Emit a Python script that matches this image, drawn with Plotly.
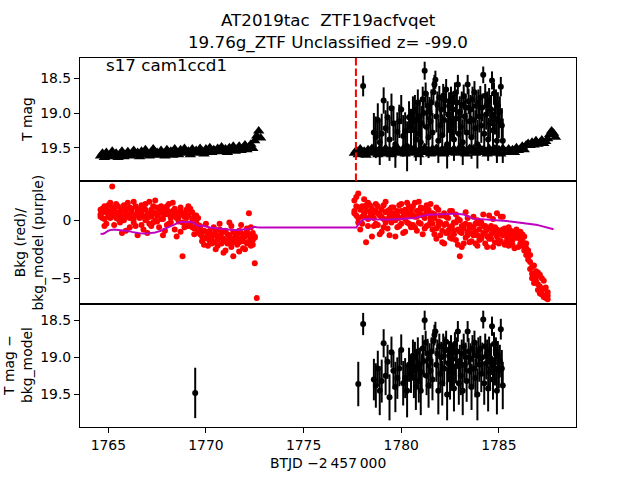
import plotly.graph_objects as go
from plotly.subplots import make_subplots

# ---------------- data ----------------
t_seg1 = [1764.6, 1764.7, 1764.8, 1764.9, 1765.0, 1765.1, 1765.2, 1765.3, 1765.4, 1765.5,
          1765.6, 1765.7, 1765.8, 1765.9, 1766.0, 1766.1, 1766.2, 1766.3, 1766.4, 1766.5,
          1766.6, 1766.7, 1766.8, 1766.9, 1767.0, 1767.1, 1767.2, 1767.3, 1767.4, 1767.5,
          1767.6, 1767.7, 1767.8, 1767.9, 1768.0, 1768.1, 1768.2, 1768.3, 1768.4, 1768.5,
          1768.6, 1768.7, 1768.8, 1768.9, 1769.0, 1769.1, 1769.2, 1769.3, 1769.4, 1769.5,
          1769.6, 1769.7, 1769.8, 1769.9, 1770.0, 1770.1, 1770.2, 1770.3, 1770.4, 1770.5,
          1770.6, 1770.7, 1770.8, 1770.9, 1771.0, 1771.1, 1771.2, 1771.3, 1771.4, 1771.5,
          1771.6, 1771.7, 1771.8, 1771.9, 1772.0, 1772.1, 1772.2, 1772.3, 1772.4, 1772.5,
          1772.6, 1772.7, 1772.8]
t_seg2 = [1777.6, 1777.7, 1777.8, 1777.9, 1778.0, 1778.1, 1778.2, 1778.3, 1778.4, 1778.5,
          1778.6, 1778.7, 1778.8, 1778.9, 1779.0, 1779.1, 1779.2, 1779.3, 1779.4, 1779.5,
          1779.6, 1779.7, 1779.8, 1779.9, 1780.0, 1780.1, 1780.2, 1780.3, 1780.4, 1780.5,
          1780.6, 1780.7, 1780.8, 1780.9, 1781.0, 1781.1, 1781.2, 1781.3, 1781.4, 1781.5,
          1781.6, 1781.7, 1781.8, 1781.9, 1782.0, 1782.1, 1782.2, 1782.3, 1782.4, 1782.5,
          1782.6, 1782.7, 1782.8, 1782.9, 1783.0, 1783.1, 1783.2, 1783.3, 1783.4, 1783.5,
          1783.6, 1783.7, 1783.8, 1783.9, 1784.0, 1784.1, 1784.2, 1784.3, 1784.4, 1784.5,
          1784.6, 1784.7, 1784.8, 1784.9, 1785.0, 1785.1, 1785.2, 1785.3, 1785.4, 1785.5,
          1785.6, 1785.7, 1785.8, 1785.9, 1786.0, 1786.1, 1786.2, 1786.3, 1786.4, 1786.5,
          1786.6, 1786.7, 1786.8, 1786.9, 1787.0, 1787.1, 1787.2, 1787.3, 1787.4, 1787.5,
          1787.6, 1787.7, 1787.8, 1787.9]

# upper-limit magnitudes (black triangles)
lim_seg1 = [19.62, 19.58, 19.64, 19.57, 19.63, 19.60, 19.55, 19.62, 19.58, 19.64,
            19.59, 19.55, 19.63, 19.60, 19.56, 19.62, 19.58, 19.54, 19.61, 19.57,
            19.63, 19.55, 19.60, 19.53, 19.59, 19.62, 19.56, 19.52, 19.60, 19.57,
            19.61, 19.54, 19.58, 19.62, 19.53, 19.59, 19.55, 19.61, 19.52, 19.57,
            19.60, 19.53, 19.58, 19.51, 19.57, 19.55, 19.60, 19.52, 19.58, 19.54,
            19.57, 19.51, 19.55, 19.59, 19.52, 19.56, 19.50, 19.57, 19.53, 19.55,
            19.51, 19.56, 19.49, 19.55, 19.52, 19.57, 19.50, 19.54, 19.48, 19.55,
            19.52, 19.48, 19.54, 19.50, 19.46, 19.53, 19.49, 19.45, 19.51, 19.40,
            19.33, 19.26, 19.36]
lim_seg2 = [19.58, 19.54, 19.60, 19.52, 19.57, 19.55, 19.61, 19.53, 19.58, 19.51,
            19.57, 19.54, 19.60, 19.52, 19.56, 19.59, 19.51, 19.57, 19.54, 19.60,
            19.53, 19.57, 19.50, 19.58, 19.55, 19.52, 19.59, 19.54, 19.57, 19.51,
            19.58, 19.53, 19.56, 19.60, 19.52, 19.55, 19.50, 19.57, 19.54, 19.59,
            19.52, 19.56, 19.51, 19.58, 19.55, 19.53, 19.59, 19.50, 19.56, 19.54,
            19.57, 19.52, 19.58, 19.54, 19.50, 19.57, 19.53, 19.59, 19.55, 19.51,
            19.56, 19.52, 19.58, 19.54, 19.50, 19.57, 19.53, 19.55, 19.59, 19.51,
            19.55, 19.58, 19.52, 19.56, 19.53, 19.59, 19.51, 19.55, 19.57, 19.52,
            19.56, 19.53, 19.57, 19.50, 19.54, 19.52, 19.48, 19.53, 19.46, 19.44,
            19.47, 19.42, 19.46, 19.40, 19.45, 19.43, 19.39, 19.44, 19.41, 19.37,
            19.31, 19.26, 19.29, 19.35]

# background (red dots), three samples per epoch
bkg_seg1_a = [0.9, 0.2, 1.2, -0.3, 0.5, 1.5, 2.9, 0.8, 1.4, 0.1,
              -0.2, 0.9, 1.3, -0.9, 0.5, 1.1, 0.2, 1.6, -0.5, 0.7,
              1.0, -0.4, 0.3, 1.4, -1.1, 0.6, 0.9, -0.2, 1.7, 0.4,
              -0.6, 0.8, -1.3, 0.5, 1.2, -0.3, 0.7, 1.5, -0.8, 0.2,
              0.6, -1.0, -3.1, 0.3, 0.9, -0.5, 0.8, 0.1, -0.7, 0.4,
              -0.4, -1.2, -1.8, -0.9, -1.5, -2.2, -1.1, -1.7, -0.6, -2.5,
              -1.4, -0.8, -2.0, -1.6, -2.6, -1.2, -1.9, -0.5, -3.1, -1.5,
              -2.1, -0.9, -1.6, -2.4, -1.3, -0.7, -1.8, -2.2, -1.1, -3.7,
              -6.7, None, None]
bkg_seg1_b = [0.3, 1.0, -0.5, 0.7, 1.3, 0.2, 1.1, -0.4, 0.6, 1.2,
              0.4, -1.1, 0.8, 0.3, 1.5, -0.6, 1.0, 0.1, 1.2, -1.3,
              0.5, 1.3, -0.8, 0.9, 0.2, 1.6, -0.5, 0.7, 0.0, 1.1,
              0.6, 1.2, 0.1, -0.9, 0.9, 1.4, -0.2, 0.4, 1.0, -1.4,
              -0.1, 1.1, 0.5, -0.6, 0.2, 1.2, -0.3, 0.7, -1.2, 0.0,
              0.2, -0.7, -1.0, -2.1, -0.3, -1.6, -0.9, -2.0, -1.3, -1.0,
              -2.2, -0.3, -1.1, -2.8, -0.9, -1.7, -0.2, -2.3, -1.0, -1.8,
              -1.2, -2.7, -0.4, -1.5, -2.5, -1.0, 0.6, -0.6, -1.7, -1.4,
              None, None, None]
bkg_seg1_c = [0.5, 0.7, 0.1, 1.0, 0.3, 0.8, 0.4, 1.1, 0.2, 0.6,
              0.8, 0.3, 0.0, 0.6, 1.0, 0.2, 0.7, -0.2, 0.4, 0.9,
              0.2, 0.6, 1.0, 0.0, 0.5, -0.3, 0.3, 1.2, 0.6, -0.1,
              0.9, 0.1, 0.6, 1.0, -0.4, 0.5, 0.2, 0.8, 0.4, 0.7,
              0.3, 0.8, -0.2, 0.6, -0.5, 0.4, 1.0, -0.6, 0.3, -0.3,
              -1.0, -0.5, -1.4, -1.6, -1.0, -1.3, -1.8, -1.4, -1.9, -1.2,
              -1.7, -1.4, -1.5, -1.0, -1.8, -2.0, -1.3, -1.6, -1.9, -1.2,
              -1.6, -1.9, -1.1, -1.8, -1.4, -2.0, -1.3, -1.6, -2.1, -1.5,
              None, None, None]
bkg_seg2_a = [1.7, 0.4, 2.3, -0.8, 1.2, 0.6, -1.9, 1.5, 0.3, 1.0,
              -0.5, 1.4, 0.6, -1.2, 0.9, 0.1, 1.6, -0.7, 0.5, 1.1,
              0.2, -1.4, 0.8, 1.3, -0.3, 0.7, -1.0, 1.5, 0.4, -0.6,
              1.2, 0.3, -0.9, 1.6, 0.5, -1.2, 1.0, 0.6, -0.4, 1.4,
              -0.8, 0.5, -1.6, 0.9, -0.2, -1.9, 0.6, -1.1, 0.2, -1.5,
              0.8, -0.9, -1.7, 0.1, -3.1, -0.5, -2.0, 0.7, -1.3, -0.4,
              -1.8, 0.3, -1.0, -2.2, -0.3, -1.4, 0.5, -2.0, -0.8, -1.6,
              -0.5, -2.3, -1.1, 0.6, -1.7, -0.9, 0.3, -2.1, -1.4, -0.6,
              -1.8, -1.0, -2.4, -0.8, -1.5, -2.0, -1.2, -2.6, -2.4, -3.4,
              -4.2, -4.6, -3.9, -4.9, -5.5, -4.7, -6.1, -5.2, -6.5, -6.8,
              None, None, None, None]
bkg_seg2_b = [0.8, 2.0, -0.2, 1.1, 0.3, 1.8, 0.9, -0.5, 1.3, -1.4,
              0.7, -0.3, 1.2, 0.4, -1.0, 1.3, -0.2, 0.8, -1.3, 0.3,
              1.1, 0.5, -0.6, 0.2, 1.4, -1.1, 0.9, -0.2, 1.2, 0.6,
              -0.4, 1.5, 0.8, -0.2, 1.1, 0.4, -0.7, 1.3, 0.9, 0.2,
              0.6, -1.2, 1.1, -0.5, -1.3, 0.4, -2.0, -0.3, -0.9, 0.8,
              -1.6, -0.2, 0.5, -2.1, -1.0, -2.3, -0.4, -1.5, 0.2, -1.9,
              -0.6, -1.3, -2.0, 0.0, -1.7, -0.2, -1.1, -0.5, -2.3, 0.4,
              -1.2, 0.1, -1.9, -0.8, -2.0, 0.3, -1.3, -0.7, -1.8, -2.2,
              -0.9, -2.1, -1.3, -0.9, -2.3, -1.0, -1.7, -2.0, -3.0, -2.9,
              -3.6, -5.0, -5.4, -4.4, -6.0, -6.3, -5.0, -6.6, -5.8, -6.2,
              None, None, None, None]
bkg_seg2_c = [0.6, 1.2, 0.2, 0.9, -0.3, 0.4, 1.3, 0.1, 0.7, 0.5,
              0.2, 0.8, -0.4, 0.5, 0.3, -0.6, 0.7, 0.1, 0.9, -0.2,
              0.6, 0.0, 0.4, -0.5, 0.8, 0.3, 0.1, 0.6, -0.3, 0.9,
              0.4, -0.6, 0.3, 0.8, -0.3, 1.0, 0.2, -0.5, 0.7, -0.1,
              -0.3, 0.2, -0.7, -0.1, 0.4, -0.9, -0.4, 0.3, -1.1, -0.6,
              -0.5, -1.2, -0.2, -0.8, 0.0, -1.1, -0.7, -0.3, -1.0, -0.6,
              -1.1, -0.6, -0.3, -1.3, -0.8, -1.6, -0.5, -1.0, -1.4, -0.7,
              -1.6, -1.0, -0.6, -1.4, -1.1, -1.8, -0.8, -1.3, -1.0, -1.6,
              -1.3, -1.7, -1.0, -1.5, -1.2, -1.6, -2.2, -1.4, -2.0, -2.6,
              -3.0, -4.0, -4.8, -5.2, -4.5, -5.7, -6.4, -5.9, -6.7, -6.5,
              None, None, None, None]

# background model (purple line)
model_seg1 = [-1.15, -1.18, -1.12, -1.00, -0.90, -0.85, -0.80, -0.80, -0.82, -0.84,
              -0.83, -0.85, -0.84, -0.86, -0.90, -0.95, -1.00, -1.05, -1.08, -1.10,
              -1.12, -1.15, -1.14, -1.15, -1.13, -1.12, -1.13, -1.10, -1.05, -1.00,
              -0.98, -0.90, -0.80, -0.72, -0.68, -0.62, -0.55, -0.45, -0.35, -0.28,
              -0.20, -0.16, -0.14, -0.13, -0.12, -0.14, -0.13, -0.16, -0.25, -0.38,
              -0.48, -0.52, -0.45, -0.50, -0.58, -0.60, -0.63, -0.65, -0.67, -0.70,
              -0.72, -0.74, -0.76, -0.79, -0.81, -0.84, -0.86, -0.86, -0.85, -0.86,
              -0.84, -0.83, -0.85, -0.82, -0.80, -0.78, -0.75, -0.68, -0.60, -0.57,
              -0.60, -0.62, -0.63]
model_seg2 = [-0.63, -0.62, -0.35, -0.15, 0.00, 0.08, 0.10, 0.09, 0.10, 0.08,
              0.09, 0.07, 0.08, 0.06, 0.07, 0.06, 0.08, 0.06, 0.07, 0.06,
              0.07, 0.06, 0.08, 0.10, 0.12, 0.11, 0.13, 0.12, 0.14, 0.15,
              0.14, 0.20, 0.25, 0.30, 0.36, 0.40, 0.44, 0.46, 0.48, 0.49,
              0.50, 0.52, 0.53, 0.55, 0.56, 0.57, 0.57, 0.58, 0.57, 0.56,
              0.58, 0.57, 0.55, 0.54, 0.53, 0.52, 0.50, 0.42, 0.33, 0.25,
              0.18, 0.14, 0.13, 0.12, 0.12, 0.11, 0.10, 0.09, 0.08, 0.07,
              0.06, 0.07, 0.06, 0.05, 0.04, 0.02, 0.00, -0.03, -0.06, -0.09,
              -0.12, -0.14, -0.16, -0.18, -0.20, -0.22, -0.24, -0.26, -0.27, -0.28,
              -0.29, -0.31, -0.34, -0.38, -0.42, -0.46, -0.50, -0.55, -0.60, -0.65,
              -0.70, -0.75, -0.78, None]

# detections (black points with error bars)
det_t = [1778.05,
         1778.6, 1778.7, 1778.8, 1778.9, 1779.0, 1779.1, 1779.2, 1779.3, 1779.4, 1779.5,
         1779.6, 1779.7, 1779.8, 1779.9, 1780.0, 1780.1, 1780.2, 1780.3, 1780.4, 1780.5, 1780.6,
         1780.65, 1780.70, 1780.75, 1780.80, 1780.85, 1780.90, 1780.95, 1781.00,
         1781.05, 1781.10, 1781.15, 1781.20, 1781.25, 1781.30, 1781.35, 1781.40, 1781.45, 1781.50,
         1781.55, 1781.60, 1781.65, 1781.70, 1781.75, 1781.80, 1781.85, 1781.90, 1781.95, 1782.00,
         1782.05, 1782.10, 1782.15, 1782.20, 1782.25, 1782.30, 1782.35, 1782.40, 1782.45, 1782.50,
         1782.55, 1782.60, 1782.65, 1782.70, 1782.75, 1782.80, 1782.85, 1782.90, 1782.95, 1783.00,
         1783.05, 1783.10, 1783.15, 1783.20, 1783.25, 1783.30, 1783.35, 1783.40, 1783.45, 1783.50,
         1783.55, 1783.60, 1783.65, 1783.70, 1783.75, 1783.80, 1783.85, 1783.90, 1783.95, 1784.00,
         1784.05, 1784.10, 1784.15, 1784.20, 1784.25, 1784.30, 1784.35, 1784.40, 1784.45, 1784.50,
         1784.55, 1784.60, 1784.65, 1784.70, 1784.75, 1784.80, 1784.85, 1784.90, 1784.95, 1785.00,
         1785.05, 1785.10, 1785.15, 1785.20]
det_mag = [18.61,
           19.28, 19.35, 19.10, 19.42, 19.30, 18.82, 19.22, 19.06, 19.38, 18.93,
           19.15, 19.45, 19.27, 19.12, 18.95, 19.33, 19.26, 19.48, 19.06, 19.20, 18.98,
           19.25, 18.95, 19.38, 19.10, 18.85, 19.30, 19.05, 19.42,
           19.15, 18.80, 19.00, 18.39, 18.72, 19.20, 18.90, 19.35, 18.98, 19.12,
           18.85, 19.28, 18.70, 18.59, 18.52, 19.05, 18.88, 19.40, 18.78, 19.18,
           18.95, 19.32, 18.75, 19.10, 18.82, 18.66, 19.45, 19.02, 18.90, 19.25,
           18.80, 19.15, 18.95, 19.38, 18.72, 19.08, 18.85, 18.59, 19.30, 18.98,
           19.20, 18.88, 19.42, 18.76, 19.05, 18.92, 19.28, 18.59, 18.83, 19.12,
           18.95, 19.35, 18.80, 19.10, 18.70, 19.22, 18.90, 19.45, 18.85, 19.05,
           18.78, 19.18, 18.92, 18.45, 19.30, 18.75, 19.02, 18.88, 19.38, 18.82,
           19.15, 18.95, 18.53, 19.25, 18.72, 19.08, 18.85, 19.40, 18.90, 19.12,
           18.98, 18.62, 19.18, 19.40]
det_err = [0.15,
           0.28, 0.30, 0.24, 0.33, 0.29, 0.19, 0.26, 0.23, 0.31, 0.21,
           0.25, 0.34, 0.28, 0.24, 0.21, 0.30, 0.27, 0.36, 0.23, 0.26, 0.22,
           0.27, 0.21, 0.31, 0.24, 0.19, 0.29, 0.23, 0.33,
           0.25, 0.18, 0.22, 0.13, 0.16, 0.26, 0.20, 0.30, 0.21, 0.24,
           0.19, 0.28, 0.16, 0.14, 0.13, 0.23, 0.19, 0.32, 0.17, 0.25,
           0.21, 0.30, 0.17, 0.24, 0.18, 0.15, 0.35, 0.22, 0.20, 0.27,
           0.18, 0.25, 0.21, 0.31, 0.16, 0.23, 0.19, 0.14, 0.29, 0.22,
           0.26, 0.19, 0.33, 0.17, 0.23, 0.20, 0.28, 0.14, 0.18, 0.24,
           0.21, 0.31, 0.18, 0.24, 0.16, 0.26, 0.20, 0.35, 0.19, 0.23,
           0.17, 0.25, 0.20, 0.12, 0.29, 0.17, 0.22, 0.19, 0.31, 0.18,
           0.25, 0.21, 0.13, 0.27, 0.16, 0.23, 0.19, 0.32, 0.20, 0.24,
           0.22, 0.14, 0.25, 0.32]

# background-subtracted magnitudes (bottom panel)
sub_mag = [18.55,
           19.30, 19.38, 19.15, 19.45, 19.32, 18.81, 19.25, 19.06, 19.54, 18.93,
           19.18, 19.40, 19.28, 19.15, 18.90, 19.35, 19.28, 19.45, 19.10, 19.22, 18.98,
           19.28, 19.00, 19.40, 19.15, 18.92, 19.32, 19.10, 19.45,
           19.20, 18.88, 19.05, 18.50, 18.80, 19.25, 18.95, 19.38, 19.02, 19.18,
           18.92, 19.30, 18.78, 18.70, 18.65, 19.10, 18.95, 19.45, 18.85, 19.22,
           19.00, 19.35, 18.85, 19.15, 18.90, 18.79, 19.50, 19.08, 18.98, 19.30,
           18.88, 19.20, 19.02, 19.42, 18.82, 19.12, 18.92, 18.65, 19.35, 19.05,
           19.25, 18.95, 19.45, 18.85, 19.10, 19.00, 19.32, 18.65, 18.92, 19.18,
           19.02, 19.40, 18.88, 19.15, 18.80, 19.28, 18.98, 19.50, 18.92, 19.10,
           18.88, 19.22, 19.00, 18.49, 19.35, 18.85, 19.08, 18.95, 19.42, 18.90,
           19.20, 19.02, 18.58, 19.30, 18.82, 19.15, 18.92, 19.45, 18.98, 19.18,
           19.05, 18.62, 19.15, 19.38]
sub_extra_t = [1769.45, 1777.8]
sub_extra_mag = [19.48, 19.36]
sub_extra_err = [0.34, 0.30]

disc_t = 1777.68
title_lines = ["AT2019tac\u00a0\u00a0ZTF19acfvqet", "19.76g_ZTF Unclassified z= -99.0"]
field_label = "s17 cam1ccd1"
x_ticks = [1765, 1770, 1775, 1780, 1785]

# ---------------- figure ----------------
FONT = "DejaVu Sans"
fig = make_subplots(rows=3, cols=1, shared_xaxes=True, vertical_spacing=0)

fig.add_trace(go.Scatter(x=t_seg1 + t_seg2, y=lim_seg1 + lim_seg2, mode="markers",
                         marker=dict(symbol="triangle-up", size=10, color="black"),
                         showlegend=False), row=1, col=1)
fig.add_trace(go.Scatter(x=det_t, y=det_mag, mode="markers",
                         marker=dict(symbol="circle", size=6, color="black"),
                         error_y=dict(type="data", array=det_err, thickness=2, width=0, color="black"),
                         showlegend=False), row=1, col=1)

t_all = t_seg1 + t_seg2
for bk in (bkg_seg1_a + bkg_seg2_a, bkg_seg1_b + bkg_seg2_b, bkg_seg1_c + bkg_seg2_c):
    fig.add_trace(go.Scatter(x=t_all, y=bk, mode="markers",
                             marker=dict(size=6, color="#ff0000"), showlegend=False), row=2, col=1)
fig.add_trace(go.Scatter(x=t_all, y=model_seg1 + model_seg2, mode="lines",
                         line=dict(color="#bf00bf", width=2), showlegend=False), row=2, col=1)

fig.add_trace(go.Scatter(x=sub_extra_t + det_t, y=sub_extra_mag + sub_mag, mode="markers",
                         marker=dict(symbol="circle", size=6, color="black"),
                         error_y=dict(type="data", array=sub_extra_err + det_err, thickness=2,
                                      width=0, color="black"),
                         showlegend=False), row=3, col=1)

fig.add_shape(type="line", xref="x", yref="y domain", x0=disc_t, x1=disc_t, y0=0, y1=1,
              line=dict(color="red", width=2, dash="7.5px,3px"), layer="above")

axis_common = dict(showline=True, linecolor="black", linewidth=1, mirror=True,
                   showgrid=False, zeroline=False, automargin=False,
                   tickfont=dict(family=FONT, size=13.9, color="black"))
for r in (1, 2, 3):
    fig.update_xaxes(range=[1763.55, 1788.95], tickvals=x_ticks, row=r, col=1, **axis_common)
fig.update_xaxes(showticklabels=False, ticks="", row=1, col=1)
fig.update_xaxes(showticklabels=False, ticks="", row=2, col=1)
fig.update_xaxes(ticks="outside", ticklen=5, tickwidth=1.1, tickcolor="black", row=3, col=1)

fig.update_yaxes(range=[19.98, 18.207], tickvals=[18.5, 19.0, 19.5], ticktext=["18.5", "19.0", "19.5"],
                 ticks="outside", ticklen=5, tickwidth=1.1, tickcolor="black", row=1, col=1, **axis_common)
fig.update_yaxes(range=[-7.21, 3.38], tickvals=[0, -5],
                 ticks="outside", ticklen=5, tickwidth=1.1, tickcolor="black", row=2, col=1, **axis_common)
fig.update_yaxes(range=[19.94, 18.28], tickvals=[18.5, 19.0, 19.5], ticktext=["18.5", "19.0", "19.5"],
                 ticks="outside", ticklen=5, tickwidth=1.1, tickcolor="black", row=3, col=1, **axis_common)

L, R, T, B = 80, 64, 58, 53
W, H = 640, 480
pw, ph = W - L - R, H - T - B


def px(x):
    return (x - L) / pw


def py(y):
    return (H - B - y) / ph


ann_font = dict(family=FONT, size=13.9, color="black")
annotations = [
    dict(text=title_lines[0], x=0.5, y=py(20), font=dict(family=FONT, size=16.7, color="black")),
    dict(text=title_lines[1], x=0.5, y=py(42), font=dict(family=FONT, size=16.7, color="black")),
    dict(text=field_label, x=px(104), y=py(65), xanchor="left",
         font=dict(family=FONT, size=16.7, color="black")),
    dict(text="T mag", x=px(27), y=py(120), textangle=-90, font=ann_font),
    dict(text="Bkg (red)/<br>bkg_model (purple)", x=px(28), y=py(242.5), textangle=-90, font=ann_font),
    dict(text="T mag \u2212<br>bkg_model", x=px(17.5), y=py(365.5), textangle=-90, font=ann_font),
    dict(text="BTJD \u22122\u2009457\u2009000", x=0.5, y=py(463), font=ann_font),
]
for a in annotations:
    a.update(xref="paper", yref="paper", showarrow=False)
    a.setdefault("xanchor", "center")
    a.setdefault("yanchor", "middle")

fig.update_layout(width=W, height=H, margin=dict(l=L, r=R, t=T, b=B),
                  paper_bgcolor="white", plot_bgcolor="white",
                  font=dict(family=FONT, color="black"),
                  annotations=annotations, showlegend=False)

fig.write_html("out.html", config={"displayModeBar": False},
               post_script="document.body.style.margin='0px';document.body.style.overflow='hidden';")
